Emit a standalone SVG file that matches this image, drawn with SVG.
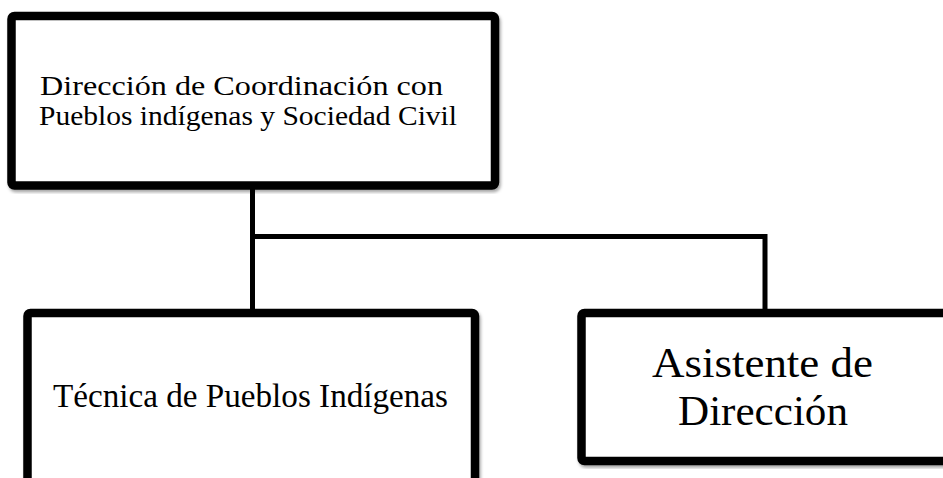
<svg xmlns="http://www.w3.org/2000/svg" width="943" height="478" viewBox="0 0 943 478">
<defs>
<filter id="sh" x="-5%" y="-5%" width="110%" height="110%">
<feDropShadow dx="1.5" dy="2.5" stdDeviation="1.8" flood-color="#000" flood-opacity="0.35"/>
</filter>
<style>
.box{fill:#fff;stroke:#000;stroke-width:8.5;filter:url(#sh)}
.conn{fill:none;stroke:#000;stroke-width:5;stroke-linecap:square;stroke-linejoin:miter}
text{font-family:"Liberation Serif","Times New Roman",serif;fill:#000}
</style>
</defs>
<rect width="943" height="478" fill="#fff"/>
<g id="connectors">
<path class="conn" d="M252.5 190 V236.5 H765 V311"/>
<path class="conn" d="M252.5 236.5 V311"/>
</g>
<g id="node-direccion">
<rect class="box" x="11.5" y="16" width="483.5" height="169.5" rx="3"/>
<text x="40" y="95" font-size="28" textLength="403" lengthAdjust="spacingAndGlyphs">Dirección de Coordinación con</text>
<text x="39" y="125" font-size="28" textLength="418" lengthAdjust="spacingAndGlyphs">Pueblos indígenas y Sociedad Civil</text>
</g>
<g id="node-tecnica">
<rect class="box" x="27.5" y="313" width="447.5" height="220" rx="3"/>
<text x="53" y="407" font-size="33" textLength="395" lengthAdjust="spacingAndGlyphs">Técnica de Pueblos Indígenas</text>
</g>
<g id="node-asistente">
<rect class="box" x="581.5" y="313" width="420" height="148" rx="3"/>
<text x="652" y="377" font-size="43" textLength="221" lengthAdjust="spacingAndGlyphs">Asistente de</text>
<text x="678" y="425" font-size="43" textLength="170" lengthAdjust="spacingAndGlyphs">Dirección</text>
</g>
</svg>
